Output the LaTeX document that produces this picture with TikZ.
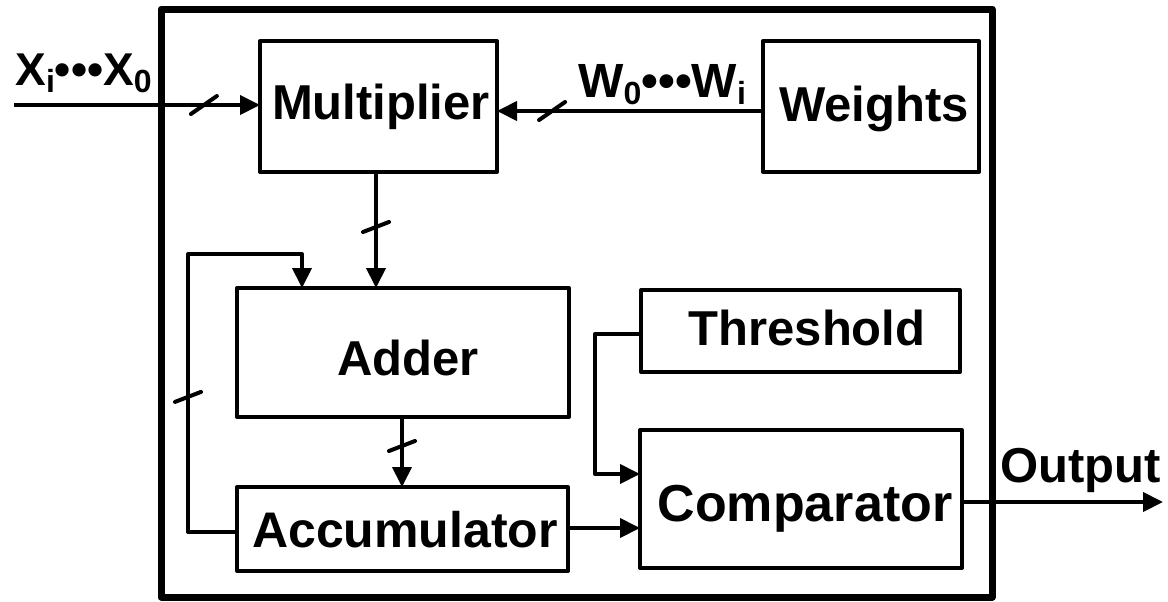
\documentclass[tikz,border=0pt]{standalone}
\usepackage{fontspec}
\setmainfont{Liberation Sans}
\usetikzlibrary{arrows.meta}
% lowered, smaller index after a letter
\newcommand\lowidx[1]{\raisebox{-3.5pt}{\fontsize{16}{16}\selectfont #1}}
\begin{document}
\begin{tikzpicture}[x=0.5pt,y=-0.5pt,
  box/.style={draw, line width=2pt, line join=round, inner sep=0pt, outer sep=0pt},
  word/.style={inner sep=0pt, anchor=base, font=\fontsize{24.5}{24.5}\selectfont\bfseries},
  wire/.style={line width=2pt, line join=round},
  arr/.style={wire, -{Triangle[length=10pt,width=9.5pt]}},
  tick/.style={line width=2pt, line cap=round},
]
\useasboundingbox (0,0) rectangle (1168,601);

% enclosing frame
\draw[line width=3.5pt, line join=round] (161,9) rectangle (992,597);

% blocks
\node[box, minimum width=118.5pt, minimum height=65.5pt] (mul) at (378.5,106.5) {};
\node[box, minimum width=108pt,   minimum height=65.5pt] (wts) at (871,106.5) {};
\node[box, minimum width=166pt,   minimum height=64.5pt] (add) at (403,352.5) {};
\node[box, minimum width=165.5pt, minimum height=42pt]   (acc) at (402.5,529) {};
\node[box, minimum width=159.5pt, minimum height=41pt]   (thr) at (800.5,331) {};
\node[box, minimum width=161pt,   minimum height=69pt]   (cmp) at (801,499) {};

% block captions
\node[word] (mul-t) at (381,119) {Multiplier};
\node[word] (wts-t) at (874,121) {Weights};
\node[word] (add-t) at (408,375) {Adder};
\node[word, font=\fontsize{25}{25}\selectfont\bfseries] (acc-t) at (405,547) {Accumulator};
\node[word] (thr-t) at (807,345) {Threshold};
\node[word, font=\fontsize{26}{26}\selectfont\bfseries] (cmp-t) at (805,521) {Comparator};

% helper coordinates for connector routing
\coordinate (xin) at (14,105);
\coordinate (wy)  at (0,111);
\coordinate (mx)  at (376,0);
\coordinate (ax)  at (402,0);
\coordinate (fy)  at (0,532);
\coordinate (fl)  at (188,254);
\coordinate (fr)  at (302,254);
\coordinate (ty)  at (0,334);
\coordinate (tx)  at (595,0);
\coordinate (cy)  at (0,474);
\coordinate (ky)  at (0,528);
\coordinate (oy)  at (0,502);
\coordinate (out) at (1163,502);

% connectors
\draw[arr] (xin) -- coordinate[pos=0.772] (t1) (xin -| mul.west);
\draw[arr] (wts.west |- wy) -- coordinate[pos=0.793] (t2) (mul.east |- wy);
\draw[arr] (mul.south -| mx) -- coordinate[pos=0.474] (t3) (add.north -| mx);
\draw[arr] (add.south -| ax) -- coordinate[pos=0.414] (t4) (acc.north -| ax);
\draw[arr] (acc.west |- fy) -- (fy -| fl) -- coordinate[pos=0.486] (t5) (fl) -- (fr) -- (add.north -| fr);
\draw[arr] (thr.west |- ty) -- (ty -| tx) -- (cy -| tx) -- (cmp.west |- cy);
\draw[arr] (acc.east |- ky) -- (cmp.west |- ky);
\draw[arr] (cmp.east |- oy) -- (out);

% bus-width slashes
\draw[tick] (t1) ++(-13,9) -- ++(26,-18);
\draw[tick] (t2) ++(-13,9) -- ++(26,-18);
\draw[tick] (t3) ++(-13,5) -- ++(26,-10);
\draw[tick] (t4) ++(-13,5) -- ++(26,-10);
\draw[tick] (t5) ++(-13,5) -- ++(26,-10);

% signal labels
\node[word, anchor=base west, font=\fontsize{23}{23}\selectfont\bfseries] (xlab) at (15,85) {X\lowidx{i}•••X\lowidx{0}};
\node[word, anchor=base west, font=\fontsize{24}{24}\selectfont\bfseries] (wlab) at (578,97) {W\lowidx{0}•••W\lowidx{i}};
\node[word, anchor=base west] (olab) at (1000,482) {Output};
\end{tikzpicture}
\end{document}
